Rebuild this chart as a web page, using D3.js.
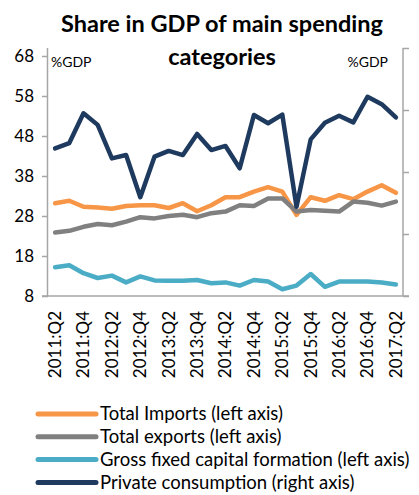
<!DOCTYPE html>
<html>
<head>
<meta charset="utf-8">
<script src="https://cdn.jsdelivr.net/npm/d3@7"></script>
<style>
  body { margin: 0; background: #fff; }
  text { font-family: Lato, "Open Sans", sans-serif; fill: #000; }
</style>
</head>
<body>
<svg class="chart"></svg>
<script>
// quarters 2011:Q2 .. 2017:Q2
const quarters = [];
for (let y = 2011; y <= 2017; y++) {
  for (let q = 1; q <= 4; q++) {
    if ((y == 2011 && q < 2) || (y == 2017 && q > 2)) continue;
    quarters.push(y + ":Q" + q);
  }
}
const shownLabels = quarters.filter((d, i) => i % 2 == 0);

// left axis series (% GDP)
const imports = [31.2, 31.8, 30.3, 30.1, 29.8, 30.5, 30.7, 30.7, 30.0, 31.2, 29.2, 30.7, 32.7,
                 32.7, 34.1, 35.2, 34.1, 28.3, 32.7, 31.8, 33.2, 32.2, 34.1, 35.7, 33.8];
const exportsV = [23.9, 24.3, 25.3, 26.0, 25.7, 26.6, 27.7, 27.4, 28.0, 28.3, 27.7, 28.7, 29.1,
                  30.7, 30.5, 32.4, 32.4, 29.1, 29.5, 29.3, 29.1, 31.6, 31.3, 30.6, 31.6];
const gfcf = [15.2, 15.7, 13.7, 12.5, 13.1, 11.4, 12.9, 11.9, 11.8, 11.8, 12.0, 11.2, 11.4,
              10.6, 12.0, 11.6, 9.7, 10.6, 13.5, 10.3, 11.6, 11.6, 11.6, 11.4, 10.9];
// right axis series (% GDP)
const privateCons = [75.7, 77.0, 84.2, 81.4, 73.3, 74.1, 63.9, 73.7, 75.1, 74.1, 79.2, 75.3, 76.3,
                     70.9, 83.8, 81.8, 83.9, 61.6, 77.9, 81.9, 83.6, 82.0, 88.2, 86.4, 83.2];

const leftTicks = [8, 18, 28, 38, 48, 58, 68];
const rightTicks = [40, 55, 70, 85, 100];

const seriesInfo = [
  {name: "Total Imports (left axis)", values: imports, color: "#f79646", axis: "left"},
  {name: "Total exports (left axis)", values: exportsV, color: "#808080", axis: "left"},
  {name: "Gross fixed capital formation (left axis)", values: gfcf, color: "#4bacc6", axis: "left"},
  {name: "Private consumption (right axis)", values: privateCons, color: "#1f3a5f", axis: "right"}
];

const W = 419, H = 495;
const margin = {top: 48, right: 16, bottom: 199, left: 48};
const plotRight = W - margin.right;
const plotBottom = H - margin.bottom;

const svg = d3.select(".chart").attr("width", W).attr("height", H);

const x = d3.scalePoint().domain(quarters).range([margin.left, plotRight]).padding(0.5);
const yLeft = d3.scaleLinear().domain([8, 70]).range([plotBottom, margin.top]);
const yRight = d3.scaleLinear().domain([40, 100]).range([plotBottom, margin.top]);

// title
svg.append("text").attr("x", 222).attr("y", 32).attr("text-anchor", "middle")
  .style("font-size", "23.5px").style("font-weight", "bold").text("Share in GDP of main spending");
svg.append("text").attr("x", 222).attr("y", 65).attr("text-anchor", "middle")
  .style("font-size", "23.5px").style("font-weight", "bold").text("categories");

// axes
const axisColor = "#a6a6a6";
const leftAxis = svg.append("g")
  .attr("transform", "translate(" + margin.left + ",0)")
  .call(d3.axisLeft(yLeft).tickValues(leftTicks).tickSize(6).tickPadding(8));
leftAxis.selectAll("text").style("font-size", "17px");

const rightAxis = svg.append("g")
  .attr("transform", "translate(" + plotRight + ",0)")
  .call(d3.axisRight(yRight).tickValues(rightTicks).tickSize(6).tickFormat(""));

[leftAxis, rightAxis].forEach(g => {
  g.select(".domain").attr("stroke", axisColor).attr("stroke-width", 1.5);
  g.selectAll(".tick line").attr("stroke", axisColor).attr("stroke-width", 1.5);
});
leftAxis.select(".domain").attr("d", "M-0.5," + margin.top + "V" + plotBottom);
rightAxis.select(".domain").attr("d", "M0," + margin.top + "V" + plotBottom);

svg.append("line")
  .attr("x1", margin.left - 6).attr("x2", plotRight + 6)
  .attr("y1", plotBottom).attr("y2", plotBottom)
  .attr("stroke", axisColor).attr("stroke-width", 1.5);

svg.append("g").selectAll("text").data(shownLabels).join("text")
  .attr("transform", d => "translate(" + x(d) + "," + (plotBottom + 15) + ") rotate(-90)")
  .attr("text-anchor", "end").attr("dy", "0.35em")
  .style("font-size", "17px").text(d => d);

// unit labels
svg.append("text").attr("x", 51).attr("y", 67).style("font-size", "14px").text("%GDP");
svg.append("text").attr("x", 388).attr("y", 67).attr("text-anchor", "end")
  .style("font-size", "14px").text("%GDP");

// lines
seriesInfo.forEach(s => {
  const yScale = s.axis == "left" ? yLeft : yRight;
  const line = d3.line()
    .x((d, i) => x(quarters[i]))
    .y(d => yScale(d));
  svg.append("path")
    .datum(s.values)
    .attr("d", line)
    .attr("fill", "none")
    .attr("stroke", s.color)
    .attr("stroke-width", 4.5)
    .attr("stroke-linejoin", "round")
    .attr("stroke-linecap", "round");
});

// legend
const legend = svg.append("g").selectAll("g").data(seriesInfo).join("g")
  .attr("transform", (d, i) => "translate(0," + (414 + i * 22.8) + ")");
legend.append("line").attr("x1", 38).attr("x2", 96)
  .attr("stroke", d => d.color).attr("stroke-width", 5).attr("stroke-linecap", "round");
legend.append("text").attr("x", 100).attr("dy", "0.35em")
  .style("font-size", "18.5px").text(d => d.name);
</script>
</body>
</html>
